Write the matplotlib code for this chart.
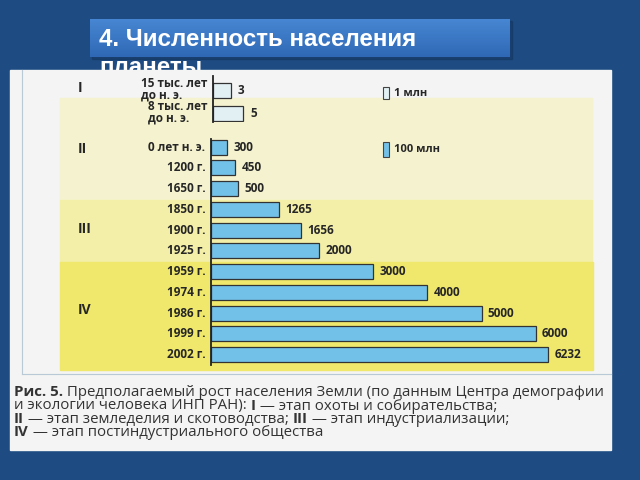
import numpy as np
import matplotlib
matplotlib.use('Agg')
import matplotlib.pyplot as plt
from matplotlib.patches import Rectangle

# data
labels_I = ['15 тыс. лет\nдо н. э.', '8 тыс. лет\nдо н. э.']
values_I = [3, 5]            # млн человек, шкала 1 млн
labels_main = ['0 лет н. э.', '1200 г.', '1650 г.', '1850 г.', '1900 г.', '1925 г.',
               '1959 г.', '1974 г.', '1986 г.', '1999 г.', '2002 г.']
values_main = [300, 450, 500, 1265, 1656, 2000, 3000, 4000, 5000, 6000, 6232]  # млн
stages = ['I', 'II', 'III', 'IV']

title_lines = ['4. Численность населения', 'планеты']
caption = [
    [('Рис. 5.', 'bold'), (' Предполагаемый рост населения Земли (по данным Центра демографии', 'normal')],
    [('и экологии человека ИНП РАН): ', 'normal'), ('I', 'bold'), (' — этап охоты и собирательства;', 'normal')],
    [('II', 'bold'), (' — этап земледелия и скотоводства; ', 'normal'), ('III', 'bold'), (' — этап индустриализации;', 'normal')],
    [('IV', 'bold'), (' — этап постиндустриального общества', 'normal')],
]

BG = '#1d4b82'
PAGE = '#f3f4f3'
BLUE = '#72c1e8'
PALE = '#e2f0f4'
INK = '#262626'
FONT = 'Open Sans'

W, H = 640, 480
fig = plt.figure(figsize=(6.4, 4.8), dpi=100)
fig.patch.set_facecolor(BG)

base = fig.add_axes([0, 0, 1, 1])
base.set_xlim(0, W)
base.set_ylim(H, 0)
base.axis('off')


def rect_px(left, top, right, bottom):
    return [left / W, 1 - bottom / H, (right - left) / W, (bottom - top) / H]


# title box with a soft gradient
grad = np.linspace(0, 1, 50).reshape(-1, 1)
cmap = matplotlib.colors.LinearSegmentedColormap.from_list('t', ['#4786d2', '#2f69b6'])
base.add_patch(Rectangle((92, 21), 420, 38, color='#14355e', alpha=0.5, zorder=0.4))
base.imshow(grad, cmap=cmap, extent=(90, 510, 57, 19), aspect='auto', zorder=0.5)
for line, yb in zip(title_lines, [46, 74]):
    t = base.text(99, yb, line, color='white', fontsize=17.4, fontweight='bold',
                  family='Liberation Sans', va='baseline', ha='left', zorder=1)
    # second line is covered by the scanned page
    t.set_clip_path(Rectangle((0, 0), W, 70, transform=base.transData))

# scanned page
base.add_patch(Rectangle((10, 70), 601, 380, color=PAGE, zorder=2))
base.add_patch(Rectangle((60, 98), 532, 102, color='#f5f3cf', zorder=2.1))
base.add_patch(Rectangle((60, 200), 532, 62, color='#f3efa8', zorder=2.1))
base.add_patch(Rectangle((60, 262), 533, 108, color='#efe86c', zorder=2.1))
base.plot([22, 22], [70, 374], color='#b9c9d6', lw=0.8, zorder=2.2)
base.plot([22, 611], [374, 374], color='#b9c9d6', lw=0.8, zorder=2.2)

# stage numerals
for s, y in zip(stages, [88, 149, 229, 310]):
    base.text(78, y, s, fontsize=10, fontweight='bold', family=FONT, color=INK,
              ha='left', va='center', zorder=3)

# legend keys
base.add_patch(Rectangle((383, 87), 6, 12, facecolor=PALE, edgecolor='#444', lw=0.8, zorder=3))
base.text(394, 93, '1 млн', fontsize=8, fontweight='bold', family=FONT, color=INK, va='center', zorder=3)
base.add_patch(Rectangle((383, 142), 6, 15, facecolor=BLUE, edgecolor='#444', lw=0.8, zorder=3))
base.text(394, 149, '100 млн', fontsize=8, fontweight='bold', family=FONT, color=INK, va='center', zorder=3)


def style(ax, ys, labels, dy=0.0, spacing=1.2):
    ax.patch.set_alpha(0)
    for sp in ['top', 'right', 'bottom']:
        ax.spines[sp].set_visible(False)
    ax.spines['left'].set_linewidth(1.3)
    ax.spines['left'].set_color('#222')
    ax.set_xticks([])
    ax.set_yticks([])
    for y, lab in zip(ys, labels):
        ax.annotate(lab, xy=(0, y + dy), xycoords=('axes fraction', 'data'),
                    xytext=(-4, 0), textcoords='offset points', ha='right', va='center',
                    multialignment='left', linespacing=spacing, fontsize=8.5,
                    fontweight='bold', family=FONT, color=INK, annotation_clip=False)


# section I: 1 unit = 1 млн
ax1 = fig.add_axes(rect_px(213, 76, 611, 122), zorder=5)
y1 = np.arange(len(values_I))
b1 = ax1.barh(y1, values_I, height=0.65, color=PALE, edgecolor='#333', lw=0.9)
ax1.set_xlim(0, 398 / 6.0)
ax1.set_ylim(1.39, -0.61)
style(ax1, y1, labels_I, dy=-0.05, spacing=0.85)
ax1.bar_label(b1, padding=5, fontsize=8.5, fontweight='bold', family=FONT, color=INK)

# sections II-IV: 1 unit = 100 млн
ax2 = fig.add_axes(rect_px(211, 139, 611, 365), zorder=5)
y2 = np.arange(len(values_main))
b2 = ax2.barh(y2, values_main, height=0.72, color=BLUE, edgecolor='#333', lw=0.9)
ax2.set_xlim(0, 400 / 0.0541)
ax2.set_ylim(10.5, -0.39)
style(ax2, y2, labels_main)
ax2.bar_label(b2, padding=4.5, fontsize=8.5, fontweight='bold', family=FONT, color=INK)

# caption with mixed weights, pieces chained on a common baseline
for i, line in enumerate(caption):
    yb = 396 + i * 13.5
    prev = None
    for txt, wt in line:
        kw = dict(fontsize=10.8, family=FONT, fontweight=wt, color='#333', zorder=3,
                  va='baseline', ha='left', annotation_clip=False)
        if prev is None:
            prev = base.annotate(txt, xy=(14, yb), **kw)
        else:
            prev = base.annotate(txt, xy=(1, yb), xycoords=(prev, 'data'), **kw)

fig.savefig('out.png', dpi=100, facecolor=BG)
